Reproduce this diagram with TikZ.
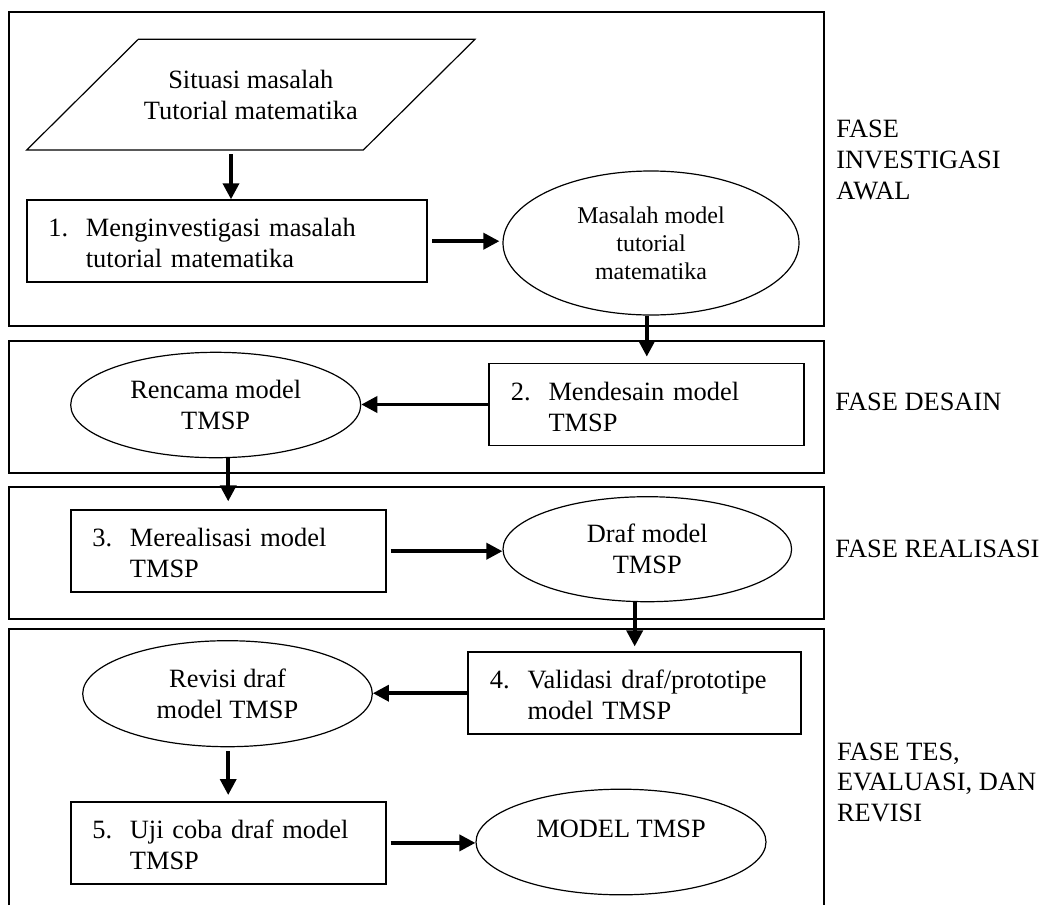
\documentclass[tikz,border=0pt]{standalone}
\usepackage{fontspec}
\setmainfont{Liberation Serif}
\usetikzlibrary{shapes.geometric,arrows.meta}

% numbered text inside the step boxes
\newcommand{\steptext}[3]{\raisebox{-2.5pt}[\height][\depth]{%
    \begin{tabular}{@{}p{18.8pt}@{}l@{}}#1&#2\\&#3\end{tabular}}}

\begin{document}
\begin{tikzpicture}[x=0.5pt, y=-0.5pt,
    every node/.style={font=\fontsize{13.2}{15.4}\selectfont},
    phase/.style={draw, line width=0.9pt},
    stepbox/.style={draw, line width=0.9pt, rectangle, minimum height=41pt,
        inner xsep=10.8pt, inner ysep=0pt, align=left},
    result/.style={draw, line width=0.6pt, ellipse, inner sep=0pt, align=center,
        minimum width=145pt, minimum height=52.8pt},
    phasename/.style={anchor=base west, align=left, inner sep=0pt},
    flow/.style={line width=1.8pt, -{Triangle[length=8pt,width=8pt]}}]

    \useasboundingbox (0,0) rectangle (1043,905);

    % Phase frames
    \draw[phase] (9,12) rectangle (824,326);
    \draw[phase] (9,340.7) rectangle (824,472.7);
    \draw[phase] (9,486.7) rectangle (824,619);
    \draw[phase] (9,905) |- (824,629.3) -- (824,905);

    % Fase investigasi awal
    \draw[line width=0.6pt] (138.3,39.3) -- (475,39.3) -- (363.3,150) -- (26.7,150) -- cycle;
    \node[align=center] (situasi) at (250.8,94.7) {Situasi masalah\\Tutorial matematika};
    \coordinate (sb) at (231,154);
    \node[stepbox, text width=178.7pt] (step1) at (227,241.2)
        {\steptext{1.}{Menginvestigasi masalah}{tutorial matematika}};
    \node[result, font=\fontsize{12}{14}\selectfont, minimum width=148pt, minimum height=72pt]
        (ell1) at (651,243) {Masalah model\\tutorial\\matematika};
    \node[phasename] (fase1) at (836,199.3) {FASE\\INVESTIGASI\\AWAL};

    % Fase desain
    \node[stepbox, text width=135.9pt] (step2) at (646.8,404.5)
        {\steptext{2.}{Mendesain model}{TMSP}};
    \node[result, minimum height=52.7pt] (ell2) at (215.7,405) {Rencama model\\TMSP};
    \node[phasename] (fase2) at (835,410.7) {FASE DESAIN};

    % Fase realisasi
    \node[stepbox, text width=135.9pt] (step3) at (228.2,551.2)
        {\steptext{3.}{Merealisasi model}{TMSP}};
    \node[result, minimum width=144.3pt, minimum height=52.5pt] (ell3) at (647.3,549.2)
        {Draf model\\TMSP};
    \node[phasename] (fase3) at (835,557.3) {FASE REALISASI};

    % Fase tes, evaluasi, dan revisi
    \node[stepbox, text width=144.8pt, minimum height=40.9pt] (step4) at (634.7,693.2)
        {\steptext{4.}{Validasi draf/prototipe}{model TMSP}};
    \node[result, minimum width=144.8pt, minimum height=53pt] (ell4) at (227.5,693.7)
        {Revisi draf\\model TMSP};
    \node[stepbox, text width=135.9pt] (step5) at (228.2,842.9)
        {\steptext{5.}{Uji coba draf model}{TMSP}};
    \node[result] (ell5) at (621,842) {MODEL TMSP\\[-2pt]\mbox{}};
    \node[phasename] (fase4) at (836.7,821.7) {FASE TES,\\EVALUASI, DAN\\REVISI};

    % Arrows
    \draw[flow] (sb) -- (sb |- step1.north);
    \draw[flow, shorten <=2pt, shorten >=1.5pt] (step1.east) -- (step1.east -| ell1.west);
    \draw[flow, shorten >=3pt] (ell1.south -| step2) -- (step2.north);
    \draw[flow] (step2.west) -- (step2.west -| ell2.east);
    \draw[flow, shorten >=4pt] (ell2.south -| step3) -- (step3.north);
    \draw[flow, shorten <=2pt] (step3.east) -- (step3.east -| ell3.west);
    \draw[flow, shorten >=2.5pt] (ell3.south -| step4) -- (step4.north);
    \draw[flow] (step4.west) -- (step4.west -| ell4.east);
    \draw[flow, shorten <=2pt, shorten >=3pt] (ell4.south -| step5) -- (step5.north);
    \draw[flow, shorten <=2pt] (step5.east) -- (step5.east -| ell5.west);

\end{tikzpicture}
\end{document}
